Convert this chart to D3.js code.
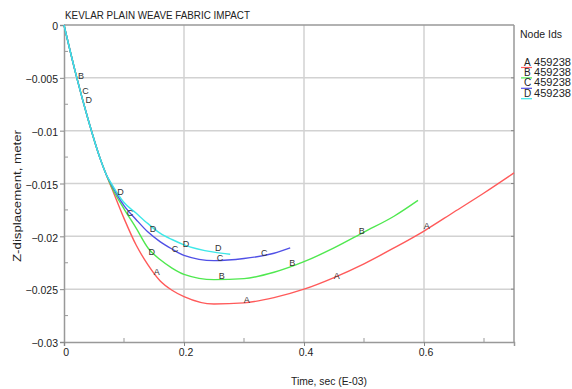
<!DOCTYPE html>
<html>
<head>
<meta charset="utf-8">
<script src="https://cdn.jsdelivr.net/npm/d3@7"></script>
<style>
  html, body { margin: 0; padding: 0; background: #fff; }
  svg { display: block; font-family: 'Liberation Sans', Arial, sans-serif; }
</style>
</head>
<body>
<div id="chart"></div>
<script>
// data (time in E-03 s, displacement in m)
const SERIES_IDS = ['A', 'B', 'C', 'D']
const NODE_ID = '459238'

const timeA = [0, 0.02, 0.04, 0.06, 0.07, 0.08, 0.1, 0.12, 0.14, 0.16, 0.18, 0.2, 0.25, 0.3, 0.35, 0.4, 0.45, 0.5, 0.55, 0.6, 0.65, 0.7, 0.75]
const dispA = [0, -0.0047, -0.0089, -0.0126, -0.0141, -0.0155, -0.0183, -0.0208, -0.0227, -0.0242, -0.0251, -0.0257, -0.0264, -0.0263, -0.0258, -0.0250, -0.0239, -0.0226, -0.0211, -0.0195, -0.0177, -0.0159, -0.0140]

const timeB = [0, 0.02, 0.04, 0.06, 0.07, 0.08, 0.1, 0.12, 0.14, 0.16, 0.18, 0.2, 0.25, 0.3, 0.35, 0.4, 0.45, 0.5, 0.55, 0.59]
const dispB = [0, -0.0047, -0.0089, -0.0126, -0.0141, -0.0154, -0.0174, -0.0192, -0.0211, -0.0222, -0.0230, -0.0236, -0.0241, -0.0240, -0.0234, -0.0224, -0.0211, -0.0196, -0.0181, -0.0166]

const timeC = [0, 0.02, 0.04, 0.06, 0.07, 0.08, 0.1, 0.12, 0.14, 0.16, 0.18, 0.2, 0.25, 0.3, 0.35, 0.377]
const dispC = [0, -0.0047, -0.0089, -0.0126, -0.0141, -0.0152, -0.0171, -0.0184, -0.0196, -0.0205, -0.0212, -0.0218, -0.0223, -0.0221, -0.0216, -0.0211]

const timeD = [0, 0.02, 0.04, 0.06, 0.07, 0.08, 0.1, 0.12, 0.14, 0.16, 0.18, 0.2, 0.25, 0.277]
const dispD = [0, -0.0047, -0.0089, -0.0126, -0.0141, -0.0151, -0.0168, -0.0178, -0.0188, -0.0197, -0.0203, -0.0208, -0.0215, -0.0217]

// letter markers placed along the curves
const markLetter = ['B', 'C', 'D', 'D', 'C', 'D', 'D', 'A', 'C', 'D', 'D', 'C', 'B', 'A', 'C', 'B', 'A', 'B', 'A']
const markTime   = [0.0283, 0.0360, 0.0412, 0.0942, 0.11, 0.1483, 0.1462, 0.1545, 0.185, 0.2033, 0.2572, 0.26, 0.2628, 0.3045, 0.3337, 0.3803, 0.4545, 0.4962, 0.6045]
const markDisp   = [-0.00487, -0.00625, -0.00712, -0.01578, -0.01777, -0.01933, -0.02146, -0.02339, -0.02117, -0.0207, -0.02115, -0.02203, -0.02377, -0.02604, -0.02155, -0.02254, -0.02372, -0.01952, -0.01906]

const xTicks = [0, 0.2, 0.4, 0.6]
const xMinor = [0.1, 0.3, 0.5, 0.7]
const yTicks = [0, -0.005, -0.01, -0.015, -0.02, -0.025, -0.03]
const yMinor = [-0.0025, -0.0075, -0.0125, -0.0175, -0.0225, -0.0275]

const COLORS = { A: '#ff5a5a', B: '#4fe84f', C: '#5050e6', D: '#3ee8e8' }

const W = 572, H = 389
const margin = { left: 64, top: 25, right: 58, bottom: 47 }

const svg = d3.select('#chart').append('svg')
  .attr('width', W).attr('height', H)

const x = d3.scaleLinear().domain([0, 0.75]).range([margin.left, W - margin.right])
const y = d3.scaleLinear().domain([-0.03, 0]).range([H - margin.bottom, margin.top])

const x0 = x.range()[0], x1 = x.range()[1]
const y0 = y.range()[0], y1 = y.range()[1]

// grid
svg.append('g').selectAll('line.vg')
  .data(xTicks.filter(t => t > 0))
  .enter().append('line')
  .attr('x1', d => x(d)).attr('x2', d => x(d))
  .attr('y1', y1).attr('y2', y0)
  .attr('stroke', '#d2d2d2').attr('stroke-width', 1.5)

svg.append('g').selectAll('line.hg')
  .data(yTicks.filter(t => t < 0 && t > -0.03))
  .enter().append('line')
  .attr('x1', x0).attr('x2', x1)
  .attr('y1', d => y(d)).attr('y2', d => y(d))
  .attr('stroke', '#d2d2d2').attr('stroke-width', 1.5)

// frame
const frame = svg.append('g').attr('stroke', '#999').attr('stroke-width', 1.5).attr('fill', 'none')
frame.append('line').attr('x1', x0).attr('x2', x1).attr('y1', y1).attr('y2', y1)
frame.append('line').attr('x1', x1).attr('x2', x1).attr('y1', y1).attr('y2', y0)

// axes
const yAxis = svg.append('g')
  .attr('transform', `translate(${x0},0)`)
  .call(d3.axisLeft(y).tickValues(yTicks).tickSize(4).tickPadding(2)
    .tickFormat(d => d === 0 ? '0' : d3.format('')(+d.toFixed(3))))
yAxis.select('.domain').attr('stroke', '#999').attr('stroke-width', 1.5)
yAxis.selectAll('.tick line').attr('stroke', '#888')
yAxis.selectAll('.tick text')
  .attr('font-size', '10.5px').attr('fill', '#222')
  .attr('font-family', "'Liberation Sans', Arial, sans-serif")
  .attr('dy', '0.45em')

svg.append('g').selectAll('line.ym')
  .data(yMinor).enter().append('line')
  .attr('x1', x0).attr('x2', x0 + 4)
  .attr('y1', d => y(d)).attr('y2', d => y(d))
  .attr('stroke', '#999').attr('stroke-width', 1)

// right side ticks
svg.append('g').selectAll('line.yr')
  .data(yTicks.filter(t => t < 0 && t > -0.03))
  .enter().append('line')
  .attr('x1', x1 - 3).attr('x2', x1)
  .attr('y1', d => y(d)).attr('y2', d => y(d))
  .attr('stroke', '#888').attr('stroke-width', 1)

const xAxis = svg.append('g')
  .attr('transform', `translate(0,${y0})`)
  .call(d3.axisBottom(x).tickValues(xTicks).tickSize(4).tickPadding(3)
    .tickFormat(d => d === 0 ? '0' : d3.format('.1f')(d)))
xAxis.select('.domain').attr('stroke', '#999').attr('stroke-width', 1.5)
xAxis.selectAll('.tick line').attr('stroke', '#888')
xAxis.selectAll('.tick text')
  .attr('font-size', '10.5px').attr('fill', '#222')
  .attr('font-family', "'Liberation Sans', Arial, sans-serif")
  .attr('dx', '0.15em')

svg.append('g').selectAll('line.xm')
  .data(xMinor).enter().append('line')
  .attr('x1', d => x(d)).attr('x2', d => x(d))
  .attr('y1', y0 - 4).attr('y2', y0)
  .attr('stroke', '#999').attr('stroke-width', 1)

// curves
const series = [
  { id: 'A', t: timeA, v: dispA },
  { id: 'B', t: timeB, v: dispB },
  { id: 'C', t: timeC, v: dispC },
  { id: 'D', t: timeD, v: dispD },
]

const line = d3.line()
  .x(d => x(d[0])).y(d => y(d[1]))
  .curve(d3.curveMonotoneX)

svg.append('g').selectAll('path.curve')
  .data(series).enter().append('path')
  .attr('fill', 'none')
  .attr('stroke', s => COLORS[s.id])
  .attr('stroke-width', 1.4)
  .attr('d', s => line(s.t.map((t, i) => [t, s.v[i]])))

// letter markers
svg.append('g').selectAll('text.mark')
  .data(markLetter).enter().append('text')
  .attr('x', (d, i) => x(markTime[i]))
  .attr('y', (d, i) => y(markDisp[i]))
  .attr('text-anchor', 'middle')
  .attr('dominant-baseline', 'central')
  .attr('font-size', '9px')
  .attr('fill', '#333')
  .text(d => d)

// title
svg.append('text')
  .attr('x', 65).attr('y', 19)
  .attr('font-size', '10.5px').attr('fill', '#222')
  .attr('textLength', 185).attr('lengthAdjust', 'spacingAndGlyphs')
  .text('KEVLAR PLAIN WEAVE FABRIC IMPACT')

// axis titles
svg.append('text')
  .attr('transform', `translate(21,${196}) rotate(-90)`)
  .attr('text-anchor', 'middle')
  .attr('font-size', '10.5px').attr('fill', '#222')
  .attr('textLength', 132).attr('lengthAdjust', 'spacingAndGlyphs')
  .text('Z-displacement, meter')

svg.append('text')
  .attr('x', 291).attr('y', 385)
  .attr('font-size', '10.5px').attr('fill', '#222')
  .attr('textLength', 76).attr('lengthAdjust', 'spacingAndGlyphs')
  .text('Time, sec (E-03)')

// legend
const legend = svg.append('g').attr('transform', 'translate(520,0)')
legend.append('text')
  .attr('x', 0).attr('y', 38)
  .attr('font-size', '10px').attr('fill', '#222')
  .attr('textLength', 42).attr('lengthAdjust', 'spacingAndGlyphs')
  .text('Node Ids')

const items = legend.selectAll('g.item')
  .data(SERIES_IDS).enter().append('g')
  .attr('transform', (d, i) => `translate(0,${65.5 + i * 10.4})`)
items.append('line')
  .attr('x1', 1).attr('x2', 12).attr('y1', 2).attr('y2', 2)
  .attr('stroke', d => COLORS[d]).attr('stroke-width', 1.2)
items.append('text')
  .attr('x', 4).attr('y', 0)
  .attr('font-size', '10px').attr('fill', '#222')
  .text(d => d)
items.append('text')
  .attr('x', 14).attr('y', 0)
  .attr('font-size', '10px').attr('fill', '#222')
  .attr('textLength', 37).attr('lengthAdjust', 'spacingAndGlyphs')
  .text(NODE_ID)
</script>
</body>
</html>
